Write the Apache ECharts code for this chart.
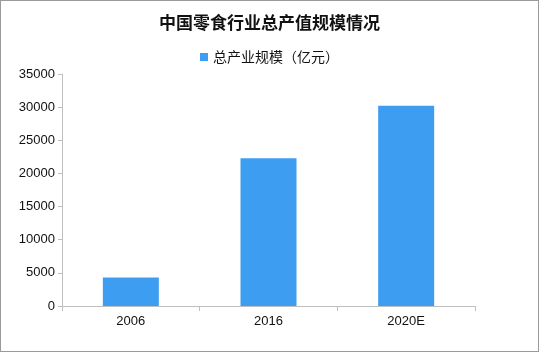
<!DOCTYPE html>
<html><head><meta charset="utf-8">
<script src="https://cdn.jsdelivr.net/npm/echarts@6/dist/echarts.min.js"></script>
<style>
html,body{margin:0;padding:0;background:#fff;}
#c{width:539px;height:352px;box-sizing:border-box;border:1px solid #9a9a9a;}
</style></head>
<body><div id="c"></div>
<script>
const titleText = '中国零食行业总产值规模情况';
const seriesName = '总产业规模（亿元）';
const categories = ['2006', '2016', '2020E'];
const values = [4300, 22300, 30200];

const chart = echarts.init(document.getElementById('c'), null, {renderer: 'canvas'});
chart.setOption({
  backgroundColor: '#ffffff',
  animation: false,
  title: {
    text: titleText, left: 'center', top: 8,
    textStyle: {fontFamily: 'Noto Sans CJK SC', fontSize: 17, fontWeight: 'bold', color: '#111'}
  },
  legend: {
    data: [seriesName], top: 44, left: 'center',
    icon: 'rect', itemWidth: 8, itemHeight: 8, itemGap: 4,
    textStyle: {fontFamily: 'Noto Sans CJK SC', fontSize: 14, color: '#111'}
  },
  grid: {left: 61, right: 63, top: 73, bottom: 45, containLabel: false},
  xAxis: {
    type: 'category', data: categories,
    axisLine: {lineStyle: {color: '#bfbfbf'}},
    axisTick: {show: true, alignWithLabel: false, length: 5, lineStyle: {color: '#bfbfbf'}},
    axisLabel: {fontFamily: 'Liberation Sans', fontSize: 13, color: '#111', margin: 9}
  },
  yAxis: {
    type: 'value', min: 0, max: 35000, interval: 5000,
    axisLine: {show: true, lineStyle: {color: '#bfbfbf'}},
    axisTick: {show: true, length: 4, inside: false, lineStyle: {color: '#bfbfbf'}},
    splitLine: {show: false},
    axisLabel: {fontFamily: 'Liberation Sans', fontSize: 13, color: '#111', margin: 7,
      formatter: function (v) { return String(v); }}
  },
  series: [{
    name: seriesName, type: 'bar', data: values, barWidth: 56,
    itemStyle: {color: '#3d9df0'}
  }]
});
</script></body></html>
